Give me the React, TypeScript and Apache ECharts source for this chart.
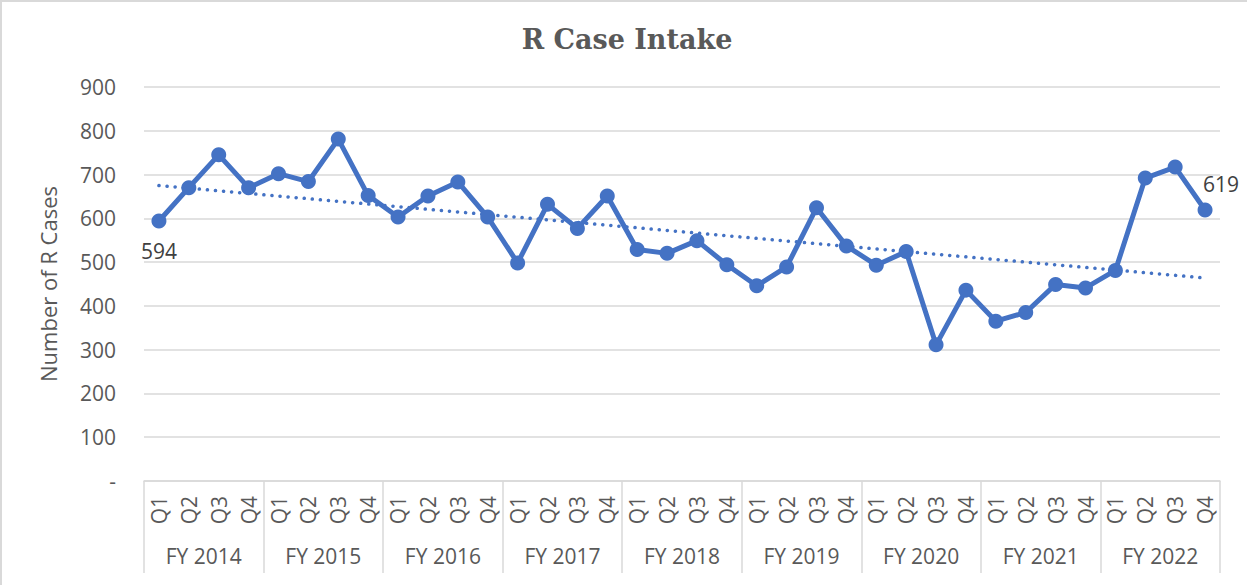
import React, { useEffect, useRef } from "react";
import * as echarts from "echarts";

const fiscalYears = ["FY 2014", "FY 2015", "FY 2016", "FY 2017", "FY 2018", "FY 2019", "FY 2020", "FY 2021", "FY 2022"];
const quarters = ["Q1", "Q2", "Q3", "Q4"];
const caseIntake = [
  594, 670, 745, 670,
  702, 684, 781, 652,
  603, 651, 683, 603,
  498, 632, 577, 651,
  529, 520, 549, 494,
  446, 489, 624, 537,
  493, 524, 311, 436,
  365, 385, 449, 441,
  481, 692, 717, 619,
];

const BLUE = "#4472C4";
const GREY = "#595959";
const FONT = "'Open Sans', 'Liberation Sans', sans-serif";

export default function App() {
  const ref = useRef<HTMLDivElement>(null);
  useEffect(() => {
    if (!ref.current) return;
    const chart = echarts.init(ref.current, undefined, { renderer: "svg" });
    const cats: string[] = [];
    fiscalYears.forEach((fy) => quarters.forEach((q) => cats.push(fy + " " + q)));
    // linear trendline (least squares) from the data
    const n = caseIntake.length;
    let sx = 0, sy = 0, sxy = 0, sxx = 0;
    caseIntake.forEach((v, i) => { sx += i; sy += v; sxy += i * v; sxx += i * i; });
    const slope = (n * sxy - sx * sy) / (n * sxx - sx * sx);
    const inter = (sy - slope * sx) / n;
    const trend = caseIntake.map((_, i) => inter + slope * i);
    const last = n - 1;

    chart.setOption({
      animation: false,
      title: {
        text: "R Case Intake",
        left: 622,
        textAlign: "center",
        top: 21,
        textStyle: { fontFamily: "'DejaVu Serif', serif", fontWeight: "bold", fontSize: 27, color: GREY },
      },
      grid: { left: 144, right: 27, top: 87, bottom: 104 },
      xAxis: [
        {
          type: "category",
          data: cats,
          position: "bottom",
          boundaryGap: true,
          axisLine: { show: false },
          axisTick: { show: false },
          axisLabel: {
            interval: 0,
            rotate: 90,
            margin: 15,
            color: GREY,
            fontSize: 21,
            fontFamily: FONT,
            formatter: (v: string) => v.split(" ")[2],
          },
        },
        {
          type: "category",
          data: fiscalYears,
          position: "bottom",
          boundaryGap: true,
          axisLine: { show: true, lineStyle: { color: "#d9d9d9", width: 1.5 } },
          axisTick: { show: true, length: 92, lineStyle: { color: "#d9d9d9", width: 1.5 } },
          axisLabel: { interval: 0, margin: 64, color: GREY, fontSize: 21, fontFamily: FONT },
        },
      ],
      yAxis: {
        type: "value",
        min: 0,
        max: 900,
        interval: 100,
        name: "Number of R Cases",
        nameLocation: "middle",
        nameGap: 85,
        nameRotate: 90,
        nameTextStyle: { color: GREY, fontSize: 22, fontFamily: FONT },
        axisLine: { show: false },
        axisTick: { show: false },
        axisLabel: {
          color: GREY,
          fontSize: 21,
          fontFamily: FONT,
          margin: 28,
          formatter: (v: number) => (v === 0 ? "-" : String(v)),
        },
        splitLine: { lineStyle: { color: "#d9d9d9", width: 1.5 } },
      },
      series: [
        {
          type: "line",
          data: caseIntake.map((v, i) => ({
            value: v,
            label:
              i === 0
                ? { show: true, position: "bottom", distance: 12 }
                : i === last
                ? { show: true, position: "top", distance: 8, offset: [16, 0] }
                : { show: false },
          })),
          lineStyle: { color: BLUE, width: 5 },
          itemStyle: { color: BLUE },
          symbol: "circle",
          symbolSize: 15,
          label: { color: "#404040", fontSize: 21, fontFamily: FONT },
          z: 3,
        },
        {
          type: "line",
          data: trend,
          symbol: "none",
          lineStyle: { color: BLUE, width: 3.5, type: [0.1, 8], cap: "round" },
          z: 2,
        },
      ],
    });
    return () => chart.dispose();
  }, []);
  return (
    <div
      style={{
        position: "absolute",
        left: 0,
        top: 0,
        width: 1247,
        height: 585,
        background: "#fff",
        boxSizing: "border-box",
        borderTop: "2px solid #d9d9d9",
        borderLeft: "2px solid #d9d9d9",
      }}
    >
      <div ref={ref} style={{ position: "absolute", left: -2, top: -2, width: 1247, height: 585 }} />
    </div>
  );
}
